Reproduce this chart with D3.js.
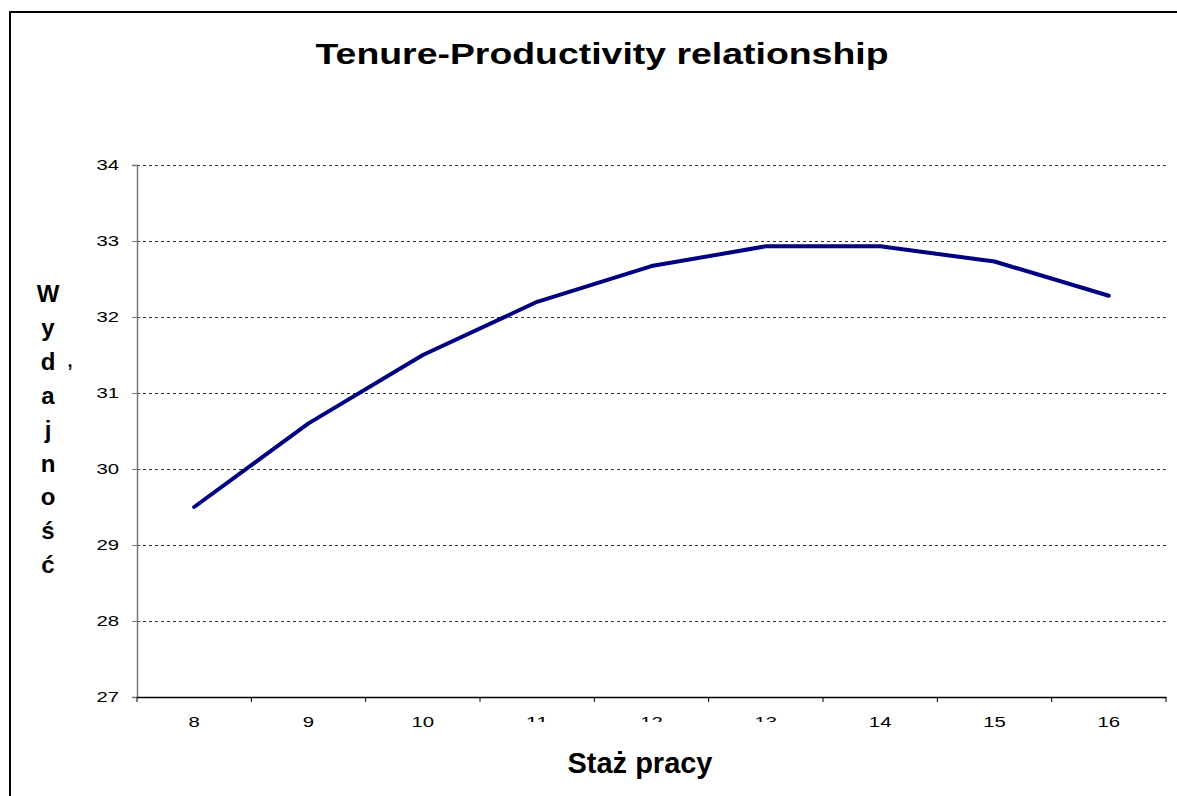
<!DOCTYPE html>
<html><head><meta charset="utf-8">
<script src="https://cdn.jsdelivr.net/npm/d3@7"></script>
<style>body{margin:0;background:#fff}svg{display:block}</style>
</head><body>
<script>
const categories = ["8","9","10","11","12","13","14","15","16"];
const values = [29.5, 30.6, 31.5, 32.2, 32.67, 32.93, 32.93, 32.73, 32.28];
const yTicks = [27, 28, 29, 30, 31, 32, 33, 34];
const title = "Tenure-Productivity relationship";
const xTitle = "Staż pracy";
const yTitle = "Wydajność";
const clippedLabels = ["11","12","13"];

(function(){
const W = 1177, H = 796;
const svg = d3.select("body").append("svg").attr("width", W).attr("height", H);
const font = "Liberation Sans, Arial, sans-serif";
const charW = 11.3;

// outer frame
svg.append("path").attr("d", `M10,${H} L10,12 L${W},12`).attr("fill","none").attr("stroke","#000").attr("stroke-width",2);

const pLeft = 137, pRight = 1166, pTop = 165, pBottom = 697;
const x = d3.scaleBand().domain(categories).range([pLeft, pRight]).padding(0);
const y = d3.scaleLinear().domain([27, 34]).range([pBottom, pTop]);

// gridlines
svg.append("g").selectAll("line").data(yTicks.filter(t => t > 27)).join("line")
  .attr("x1", pLeft).attr("x2", pRight).attr("y1", d => y(d)).attr("y2", d => y(d))
  .attr("stroke", "#333").attr("stroke-width", 1).attr("stroke-dasharray", "3,3")
  .attr("shape-rendering","crispEdges");

// y axis
const yAxis = svg.append("g").attr("transform", `translate(${pLeft},0)`)
  .call(d3.axisLeft(y).tickValues(yTicks).tickSize(5).tickPadding(13).tickFormat(d3.format("d")));
yAxis.select(".domain").attr("stroke", "#777").attr("stroke-width", 1.5);
yAxis.selectAll(".tick line").attr("stroke", "#777");
yAxis.selectAll("text").attr("font-family", font).attr("font-size", 15).attr("fill", "#000")
  .attr("textLength", d => String(d).length * charW).attr("lengthAdjust","spacingAndGlyphs");

// x axis
const xAxis = svg.append("g").attr("transform", `translate(0,${pBottom})`)
  .call(d3.axisBottom(x).tickSize(0).tickPadding(19));
xAxis.select(".domain").attr("stroke", "#000").attr("stroke-width", 1.5);
xAxis.selectAll("text").attr("font-family", font).attr("font-size", 15).attr("fill", "#000")
  .attr("textLength", d => String(d).length * charW).attr("lengthAdjust","spacingAndGlyphs");
xAxis.selectAll(".tick").filter(d => clippedLabels.includes(d)).select("text").remove();

// boundary ticks
const bounds = categories.map(c => x(c)).concat([pRight]);
svg.append("g").selectAll("line").data(bounds).join("line")
  .attr("x1", d => d).attr("x2", d => d).attr("y1", pBottom).attr("y2", pBottom + 5)
  .attr("stroke", "#000").attr("stroke-width", 1);

// clipped labels like the reference
svg.append("defs").append("clipPath").attr("id","lblclip").append("rect")
  .attr("x", 0).attr("y", 0).attr("width", W).attr("height", 722);
svg.append("g").attr("clip-path","url(#lblclip)").selectAll("text").data(clippedLabels).join("text")
  .attr("x", d => x(d) + x.bandwidth()/2).attr("y", 727)
  .attr("text-anchor","middle").attr("font-family", font).attr("font-size", 15)
  .attr("textLength", d => d.length * charW).attr("lengthAdjust","spacingAndGlyphs").text(d => d);

// line
const line = d3.line().x((d,i) => x(categories[i]) + x.bandwidth()/2).y(d => y(d));
svg.append("path").datum(values).attr("d", line).attr("fill","none")
  .attr("stroke","#000080").attr("stroke-width",4).attr("stroke-linejoin","round").attr("stroke-linecap","round");

// title
svg.append("text").attr("x", 602).attr("y", 64).attr("text-anchor","middle")
  .attr("font-family", font).attr("font-weight","bold").attr("font-size", 29)
  .attr("textLength", 573).attr("lengthAdjust","spacingAndGlyphs").text(title);

// x title
svg.append("text").attr("x", 640).attr("y", 773).attr("text-anchor","middle")
  .attr("font-family", font).attr("font-weight","bold").attr("font-size", 29)
  .attr("textLength", 145).attr("lengthAdjust","spacingAndGlyphs").text(xTitle);

// y title stacked
const letters = Array.from(yTitle);
svg.append("g").selectAll("text").data(letters).join("text")
  .attr("x", 48).attr("y", (d,i) => 302 + i*33.9).attr("text-anchor","middle")
  .attr("font-family", font).attr("font-weight","bold").attr("font-size", 24).text(d => d);
svg.append("text").attr("x", 70).attr("y", 367).attr("text-anchor","middle")
  .attr("font-family", font).attr("font-weight","bold").attr("font-size", 18).text(",");
})();
</script>
</body></html>
